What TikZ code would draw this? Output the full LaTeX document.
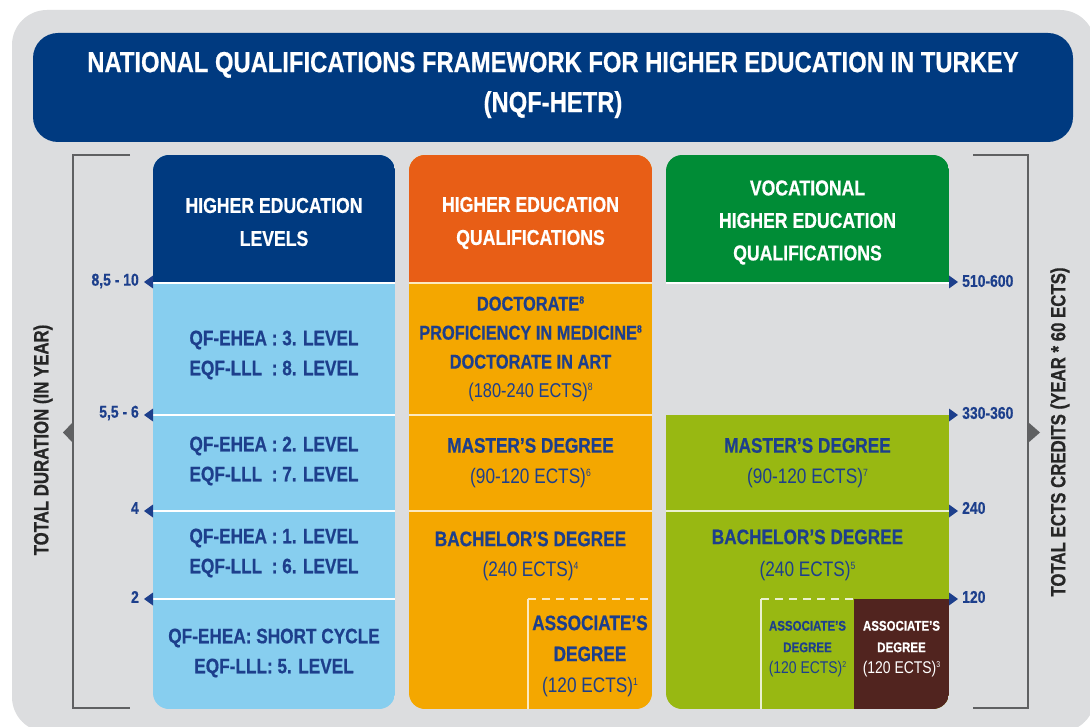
\documentclass[tikz,border=0pt]{standalone}
\usepackage{fontspec}
\newfontfamily\cond{Liberation Sans}[FakeStretch=0.82, BoldFeatures={FakeBold=0.6}]
\newcommand\sps[1]{\raisebox{7pt}{\fontsize{10.5}{10.5}\selectfont #1}}
\newcommand\spss[1]{\raisebox{6pt}{\fontsize{8.5}{8.5}\selectfont #1}}
\definecolor{panel}{HTML}{DCDDDF}
\definecolor{navy}{HTML}{003A80}
\definecolor{lblue}{HTML}{87CEEF}
\definecolor{orgH}{HTML}{E85E16}
\definecolor{orgB}{HTML}{F4A700}
\definecolor{grnH}{HTML}{008C36}
\definecolor{grnB}{HTML}{98B812}
\definecolor{brown}{HTML}{51241F}
\definecolor{tblue}{HTML}{1D3F8C}
\definecolor{bracket}{HTML}{5F6062}
\tikzset{
  hdr/.style={font={\cond\bfseries\fontsize{21.5}{33}\selectfont}, text=white, align=center, inner sep=0pt},
  body/.style={font={\cond\bfseries\fontsize{21}{30}\selectfont}, text=tblue, align=center, inner sep=0pt},
  small/.style={font={\cond\bfseries\fontsize{14}{21.5}\selectfont}, align=center, inner sep=0pt},
  sidenum/.style={font={\cond\bfseries\fontsize{17}{20}\selectfont}, text=tblue, inner sep=0pt},
  sidettl/.style={font={\cond\bfseries\fontsize{20.5}{24}\selectfont}, text=black!85, inner sep=0pt, rotate=90},
  sepline/.style={draw=white, line width=2pt},
  sepcream/.style={draw=orgB!25!white, line width=2pt},
  sepgreen/.style={draw=grnB!20!white, line width=2pt},
  brk/.style={draw=bracket, line width=2pt},
  tri/.style={fill=tblue},
  bigtri/.style={fill=bracket}
}
\begin{document}
\begin{tikzpicture}[x=1pt,y=-1pt]
\useasboundingbox (0,0) rectangle (1090,727);
\fill[white] (0,0) rectangle (1090,727);
\fill[panel, rounded corners=35pt] (12,10) rectangle (1095,732);
% title
\fill[navy, rounded corners=25pt] (33,33) rectangle (1073,142);
\node[font={\cond\bfseries\fontsize{29}{40}\selectfont}, text=white, align=center, inner sep=0pt] (title) at (553,85)
  {NATIONAL QUALIFICATIONS FRAMEWORK FOR HIGHER EDUCATION IN TURKEY\\(NQF-HETR)};
% brackets
\draw[brk] (130,155) -- (73,155) -- (73,708) -- (130,708);
\fill[bigtri] (73,422) -- (63,432.5) -- (73,443) -- cycle;
\draw[brk] (973,155) -- (1028,155) -- (1028,708) -- (973,708);
\fill[bigtri] (1028,422) -- (1040,432.5) -- (1028,443) -- cycle;
\node[sidettl] (lt) at (43,440) {TOTAL DURATION (IN YEAR)};
\node[sidettl] (rt) at (1060,432) {TOTAL ECTS CREDITS (YEAR * 60 ECTS)};
% column 1
\begin{scope}
\clip[rounded corners=16pt] (153,155) rectangle (395,709);
\fill[lblue] (153,155) rectangle (395,709);
\fill[navy] (153,155) rectangle (395,282);
\end{scope}
\draw[sepline] (153,283) -- (395,283);
\draw[sepline] (153,415) -- (395,415);
\draw[sepline] (153,511) -- (395,511);
\draw[sepline] (153,599) -- (395,599);
% column 2
\begin{scope}
\clip[rounded corners=16pt] (409,155) rectangle (652,709);
\fill[orgB] (409,155) rectangle (652,709);
\fill[orgH] (409,155) rectangle (652,282);
\end{scope}
\draw[sepcream] (409,283) -- (652,283);
\draw[sepcream] (409,415) -- (652,415);
\draw[sepcream] (409,511) -- (652,511);
\draw[sepcream, line width=1.5pt] (528,709) -- (528,599);
\draw[sepcream, line width=1.5pt, dash pattern=on 8pt off 6pt] (528,599) -- (652,599);
% column 3
\begin{scope}
\clip[rounded corners=16pt] (666,155) rectangle (949,709);
\fill[grnH] (666,155) rectangle (949,282);
\fill[grnB] (666,415) rectangle (949,709);
\fill[brown] (854,599) rectangle (949,709);
\end{scope}
\draw[sepline] (666,283) -- (949,283);
\draw[sepgreen] (666,511) -- (949,511);
\draw[sepgreen, line width=1.5pt] (761,709) -- (761,599);
\draw[sepgreen, line width=1.5pt, dash pattern=on 8pt off 6pt] (761,599) -- (854,599);
% triangles and numbers
\foreach \yy in {282,415,511,599} {\fill[tri] (153,\yy-6.5) -- (144,\yy) -- (153,\yy+6.5) -- cycle;}
\foreach \yy in {282,415,511,599} {\fill[tri] (949,\yy-6.5) -- (958,\yy) -- (949,\yy+6.5) -- cycle;}
\node[sidenum, anchor=east] (l1) at (139,281) {8,5 - 10};
\node[sidenum, anchor=east] (l2) at (139,413) {5,5 - 6};
\node[sidenum, anchor=east] (l3) at (139,508) {4};
\node[sidenum, anchor=east] (l4) at (139,597) {2};
\node[sidenum, anchor=west] (r1) at (962,281) {510-600};
\node[sidenum, anchor=west] (r2) at (962,413) {330-360};
\node[sidenum, anchor=west] (r3) at (962,508) {240};
\node[sidenum, anchor=west] (r4) at (962,597) {120};
% headers
\node[hdr] (h1) at (274,222) {HIGHER EDUCATION\\LEVELS};
\node[hdr] (h2) at (530.5,223) {HIGHER EDUCATION\\QUALIFICATIONS};
\node[hdr, font={\cond\bfseries\fontsize{21.5}{32.5}\selectfont}] (h3) at (807.5,222.5) {VOCATIONAL\\HIGHER EDUCATION\\QUALIFICATIONS};
% column 1 texts
\node[body] (c1a) at (274,355) {QF-EHEA : 3. LEVEL\\EQF-LLL\ \ : 8. LEVEL};
\node[body] (c1b) at (274,461) {QF-EHEA : 2. LEVEL\\EQF-LLL\ \ : 7. LEVEL};
\node[body] (c1c) at (274,553) {QF-EHEA : 1. LEVEL\\EQF-LLL\ \ : 6. LEVEL};
\node[body] (c1d) at (274,653) {QF-EHEA: SHORT CYCLE\\EQF-LLL: 5. LEVEL};
% column 2 texts
\node[body, font={\cond\bfseries\fontsize{20}{29}\selectfont}] (c2a) at (530.5,349)
  {DOCTORATE\sps{8}\\PROFICIENCY IN MEDICINE\sps{8}\\DOCTORATE IN ART\\{\mdseries (180-240 ECTS)\sps{8}}};
\node[body, font={\cond\bfseries\fontsize{21}{31}\selectfont}] (c2b) at (530.5,463) {MASTER’S DEGREE\\{\mdseries (90-120 ECTS)\sps{6}}};
\node[body] (c2c) at (530.5,556) {BACHELOR’S DEGREE\\{\mdseries (240 ECTS)\sps{4}}};
\node[body, font={\cond\bfseries\fontsize{21}{31}\selectfont}] (c2d) at (590,656) {ASSOCIATE’S\\DEGREE\\{\mdseries (120 ECTS)\sps{1}}};
% column 3 texts
\node[body, font={\cond\bfseries\fontsize{21}{31}\selectfont}] (c3b) at (807.5,463) {MASTER’S DEGREE\\{\mdseries (90-120 ECTS)\sps{7}}};
\node[body, font={\cond\bfseries\fontsize{21}{32}\selectfont}] (c3c) at (807.5,555) {BACHELOR’S DEGREE\\{\mdseries (240 ECTS)\sps{5}}};
\node[small, text=tblue] (c3d) at (807.5,649) {ASSOCIATE’S\\DEGREE\\{\mdseries\fontsize{17}{21.5}\selectfont (120 ECTS)\spss{2}}};
\node[small, text=white] (c3e) at (901.5,649) {ASSOCIATE’S\\DEGREE\\{\mdseries\fontsize{17}{21.5}\selectfont (120 ECTS)\spss{3}}};
\end{tikzpicture}
\end{document}
